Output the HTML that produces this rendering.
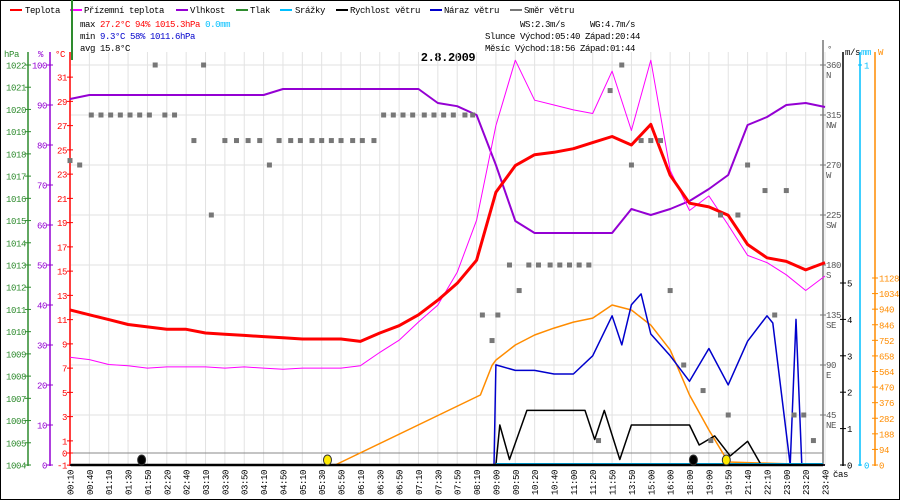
<!DOCTYPE html>
<html><head><meta charset="utf-8">
<style>
html,body{margin:0;padding:0;background:#fff;}
svg{display:block;font-family:"Liberation Mono","DejaVu Sans Mono",monospace;font-size:9px;letter-spacing:-0.4px;white-space:pre;}
</style></head>
<body>
<svg id="chart" width="900" height="500" viewBox="0 0 900 500" xml:space="preserve">
  <rect x="0" y="0" width="900" height="500" fill="#fff"/>
  <rect x="0.5" y="0.5" width="899" height="499" fill="none" stroke="#000"/>
  <g id="legend">
    <g><rect x="10" y="9" width="12" height="2" fill="#f00"/><text x="25" y="13">Teplota</text></g>
    <g><rect x="70" y="9" width="12" height="2" fill="#f0f"/><text x="84" y="13">Přízemní teplota</text></g>
    <g><rect x="176" y="9" width="12" height="2" fill="#9400d3"/><text x="190" y="13">Vlhkost</text></g>
    <g><rect x="236" y="9" width="12" height="2" fill="#2e8b2e"/><text x="250" y="13">Tlak</text></g>
    <g><rect x="280" y="9" width="12" height="2" fill="#00bfff"/><text x="295" y="13">Srážky</text></g>
    <g><rect x="336" y="9" width="12" height="2" fill="#000"/><text x="350" y="13">Rychlost větru</text></g>
    <g><rect x="430" y="9" width="12" height="2" fill="#00c"/><text x="444" y="13">Náraz větru</text></g>
    <g><rect x="510" y="9" width="12" height="2" fill="#777"/><text x="524" y="13">Směr větru</text></g>
  </g>
  <g id="stats">
    <text x="80" y="27">max <tspan fill="#f00">27.2°C  94%  1015.3hPa</tspan>   <tspan fill="#00bfff">0.0mm</tspan></text>
    <text x="80" y="39">min  <tspan fill="#00c">9.3°C  58%  1011.6hPa</tspan></text>
    <text x="80" y="51">avg 15.8°C</text>
    <text x="520" y="27">WS:2.3m/s</text>
    <text x="590" y="27">WG:4.7m/s</text>
    <text x="485" y="39">Slunce Východ:05:40  Západ:20:44</text>
    <text x="485" y="51">Měsíc  Východ:18:56  Západ:01:44</text>
  </g>
  <text x="448" y="61" text-anchor="middle" font-weight="bold" font-size="12">2.8.2009</text>
  <g id="grid"></g>
  <g id="axes"></g>
  <g id="series"></g>
</svg>
<script>
const timeLabels = ["00:10","00:40","01:10","01:30","01:50","02:20","02:40","03:10","03:30","03:50","04:10","04:50","05:10","05:30","05:50","06:10","06:30","06:50","07:10","07:30","07:50","08:10","09:00","09:50","10:20","10:40","11:00","11:20","11:50","13:50","15:00","16:00","18:00","19:00","19:50","21:40","22:10","23:00","23:20","23:40"];
const tempVals = [11.8,11.4,11.0,10.6,10.4,10.2,10.2,9.9,9.8,9.7,9.6,9.5,9.4,9.4,9.4,9.2,9.9,10.5,11.4,12.6,14.0,15.9,21.5,23.7,24.6,24.8,25.1,25.6,26.1,25.4,27.1,22.9,20.6,20.3,19.6,17.2,16.1,15.8,15.1,15.7];
const feelsVals = [7.9,7.7,7.3,7.2,7.0,7.1,7.1,7.1,7.0,7.1,7.0,6.9,7.0,7.0,7.0,7.2,8.3,9.3,10.8,12.2,14.9,19.2,27.0,32.4,29.1,28.7,28.3,28.0,31.5,26.6,32.4,23.3,20.0,21.2,18.8,16.3,15.7,14.7,13.4,14.6];
const humVals = [91.5,92.5,92.5,92.5,92.5,92.5,92.5,92.5,92.5,92.5,92.5,94,94,94,94,94,94,94,94,90.5,89.7,87.5,75,61,58,58,58,58,58,64,62.5,64,66,69,72.5,85,87,90,90.5,89.5];
const gustIdx = [0,21.9,22,23,24,25,26,27,28,28.5,29,29.5,30,31,32,33,34,35,36,36.3,37.2,37.5,37.8,39];
const gustVals = [0,0,2.75,2.6,2.6,2.5,2.5,3.0,4.1,3.3,4.4,4.7,3.6,3.0,2.3,3.2,2.2,3.4,4.1,3.9,0,4.0,0,0];
const windIdx = [0,22,22.2,22.7,23.6,26.6,27.1,27.6,28.4,29.0,32.0,32.5,33.3,34.1,35.0,35.7,39];
const windVals = [0,0,1.1,0.15,1.5,1.5,0.7,1.5,0.15,1.1,1.1,0.55,0.8,0.25,0.65,0,0];
const sunIdx = [0,13.7,21.2,21.8,22,23,24,25,26,27,28,29,30,31,32,33,34,39];
const sunVals = [0,0,422,600,633,724,784,826,862,886,965,935,844,694,422,211,18,0];
const dirIdx = [0,0.5,1.1,1.6,2.1,2.6,3.1,3.6,4.1,4.4,4.9,5.4,6.4,6.9,7.3,8.0,8.6,9.2,9.8,10.3,10.8,11.4,11.9,12.5,13.0,13.5,14.0,14.6,15.1,15.7,16.2,16.7,17.2,17.7,18.3,18.8,19.3,19.8,20.4,20.8,21.3,21.8,22.1,22.7,23.2,23.7,24.2,24.8,25.3,25.8,26.3,26.8,27.3,27.9,28.5,29.0,29.5,30.0,30.5,31.0,31.7,32.7,33.1,33.6,34.0,34.5,35.0,35.9,36.4,37.0,37.4,37.9,38.4];
const dirDeg = [274,270,315,315,315,315,315,315,315,360,315,315,292,360,225,292,292,292,292,270,292,292,292,292,292,292,292,292,292,292,315,315,315,315,315,315,315,315,315,315,135,112,135,180,157,180,180,180,180,180,180,180,22,337,360,270,292,292,292,157,90,67,22,225,45,225,270,247,135,247,45,45,22];
const tempTicks = [-1,0,1,3,5,7,9,11,13,15,17,19,21,23,25,27,29,31];
const humTicks = [0,10,20,30,40,50,60,70,80,90,100];
const presTicks = [1004,1005,1006,1007,1008,1009,1010,1011,1012,1013,1014,1015,1016,1017,1018,1019,1020,1021,1022];
const dirTicks = [45,90,135,180,225,270,315,360];
const dirNames = ["NE","E","SE","S","SW","W","NW","N"];
const windTicks = [0,1,2,3,4,5];
const sunTicks = [0,94,188,282,376,470,564,658,752,846,940,1034,1128];
const eventIdx = [3.7,13.3,32.2,33.9];
const eventType = ["moon","sun","moon","sun"];

const NS="http://www.w3.org/2000/svg";
const X0=70, DX=19.36, YB=465, YT=52;
const xs=i=>X0+DX*i;
const yTemp=v=>453-v*12.125;
const yHum=v=>465-v*4;
const yPres=v=>465-(v-1004)*400/18;
const yDir=v=>465-v*400/360;
const yWind=v=>465-v*36.4;
const ySun=v=>465-v*187/1128;
const yRain=v=>465-v*400;
function mk(tag,attrs,parent,txt){const e=document.createElementNS(NS,tag);for(const k in attrs)e.setAttribute(k,attrs[k]);if(txt!==undefined)e.textContent=txt;parent.appendChild(e);return e;}
const grid=document.getElementById('grid'), axes=document.getElementById('axes'), ser=document.getElementById('series');

dirTicks.forEach(d=>{const l=mk('line',{x1:71,x2:823,y1:yDir(d),y2:yDir(d),stroke:'#e2e2e2'},grid);

});
timeLabels.forEach((t,i)=>{const l=mk('line',{x1:xs(i),x2:xs(i),y1:YT,y2:YB,stroke:'#e2e2e2'},grid);


const tx=mk('text',{x:0,y:0,transform:`translate(${xs(i)+3.5},495) rotate(-90)`,'font-size':'9'},axes,t);

});
mk('line',{x1:71,x2:823,y1:453,y2:453,stroke:'#888'},grid);
mk('line',{x1:72,x2:72,y1:0,y2:60,stroke:'#2e8b2e','stroke-width':2},grid);

function vaxis(x,col,ticks,yf,labelX,anchor,name){
  const g=mk('g',{},axes);
  
  
  mk('line',{x1:x,x2:x,y1:52,y2:466,stroke:col,'stroke-width':1.5},g);
  ticks.forEach(t=>{mk('line',{x1:x-3,x2:x+3,y1:yf(t),y2:yf(t),stroke:col},g);
    mk('text',{x:labelX,y:yf(t)+3.5,fill:col,'text-anchor':anchor},g,String(t));});
  return g;}
vaxis(28,'#2e8b2e',presTicks,yPres,26,'end','pressure-axis');
vaxis(50,'#9400d3',humTicks,yHum,47,'end','humidity-axis');
vaxis(70,'#f00',tempTicks,yTemp,67,'end','temperature-axis');
mk('text',{x:4,y:57,fill:'#2e8b2e'},axes,'hPa');
mk('text',{x:38,y:57,fill:'#9400d3'},axes,'%');
mk('text',{x:55,y:57,fill:'#f00'},axes,'°C');

const dg=mk('g',{},axes);


mk('line',{x1:823,x2:823,y1:40,y2:466,stroke:'#777','stroke-width':1.5},dg);
dirTicks.forEach((d,k)=>{mk('line',{x1:820,x2:826,y1:yDir(d),y2:yDir(d),stroke:'#777'},dg);
  mk('text',{x:826,y:yDir(d)+3,fill:'#555'},dg,String(d));
  mk('text',{x:826,y:yDir(d)+13,fill:'#555'},dg,dirNames[k]);});
mk('text',{x:827,y:52,fill:'#555'},axes,'°');
vaxis(843,'#000',windTicks,yWind,847,'start','wind-axis');
mk('text',{x:845,y:55},axes,'m/s');
const rg=mk('g',{},axes);


mk('line',{x1:860,x2:860,y1:52,y2:466,stroke:'#00bfff','stroke-width':1.5},rg);
[0,1].forEach(t=>{mk('line',{x1:858,x2:862,y1:yRain(t),y2:yRain(t),stroke:'#00bfff'},rg);mk('text',{x:864,y:yRain(t)+3.5,fill:'#00bfff'},rg,String(t));});
mk('text',{x:861,y:55,fill:'#00bfff'},axes,'mm');
vaxis(875,'#ff8c00',sunTicks,ySun,879,'start','sun-axis');
mk('text',{x:878,y:55,fill:'#ff8c00'},axes,'W');
mk('text',{x:833,y:477},axes,'čas');

function path(idx,vals,yf,col,w,name){
  const d=vals.map((v,k)=>(k?'L':'M')+xs(idx[k]).toFixed(1)+','+yf(v).toFixed(1)).join(' ');
  const p=mk('path',{d:d,fill:'none',stroke:col,'stroke-width':w,'stroke-linejoin':'round'},ser);
  
  }
const full=timeLabels.map((t,i)=>i);
path(sunIdx,sunVals,ySun,'#ff8c00',1.5,'sun-line');
path(full,humVals,yHum,'#9400d3',2,'humidity-line');
path(full,feelsVals,yTemp,'#f0f',1,'feels-like-line');
path(full,tempVals,yTemp,'#f00',3,'temperature-line');
path(gustIdx,gustVals,yWind,'#00c',1.5,'gust-line');
path(windIdx,windVals,yWind,'#000',1.5,'wind-speed-line');
const rl=mk('line',{x1:xs(22),x2:823,y1:464,y2:464,stroke:'#00bfff','stroke-width':2},ser);


dirIdx.forEach((ix,k)=>{const r=mk('rect',{x:xs(ix)-2.5,y:yDir(dirDeg[k])-2.5,width:5,height:5,fill:'#777'},ser);

});
mk('line',{x1:71,x2:823,y1:465,y2:465,stroke:'#000','stroke-width':2.5},ser);
eventIdx.forEach((ix,k)=>{const e=mk('ellipse',{cx:xs(ix),cy:460,rx:4,ry:5,fill:eventType[k]==='sun'?'#ffea00':'#000',stroke:'#333'},ser);

});
</script>
</body></html>
